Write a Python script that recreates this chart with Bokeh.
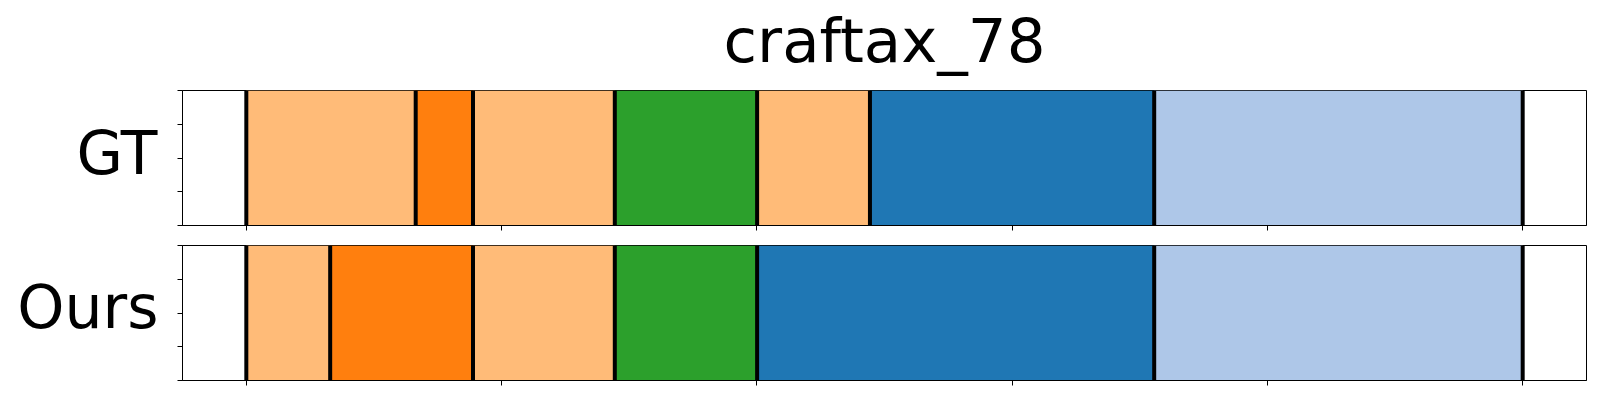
from bokeh.plotting import figure
from bokeh.layouts import column, row
from bokeh.models import Range1d, FixedTicker, CustomLabelingPolicy
from bokeh.core.properties import value
from bokeh.embed import file_html
from bokeh.resources import INLINE

title_text = "craftax_78"
row_labels = ["GT", "Ours"]

# segment boundaries (percent of sequence) and segment colours
gt_bounds = [0, 13.27, 17.76, 28.87, 40.02, 48.86, 71.13, 100]
gt_colors = ["#ffbb78", "#ff7f0e", "#ffbb78", "#2ca02c", "#ffbb78", "#1f77b4", "#aec7e8"]
ours_bounds = [0, 6.57, 17.76, 28.87, 40.02, 71.13, 100]
ours_colors = ["#ffbb78", "#ff7f0e", "#ffbb78", "#2ca02c", "#1f77b4", "#aec7e8"]

x_ticks = [0, 20, 40, 60, 80, 100]
y_ticks = [0, 0.25, 0.5, 0.75, 1.0]

FONT = "DejaVu Sans"

# layout (pixels)
TOTAL_W = 1592
TITLE_H = 89
LAB_W = 172
PANEL_BORDER_L = 10
FRAME_W = 1404
FRAME_H = 135

hide_all = CustomLabelingPolicy(code="""
const n = indices.size;
for (let i = 0; i < n; i++) { indices.unset(i); }
return indices;
""")


def blank_fig(w, h, xr, yr):
    f = figure(width=w, height=h, x_range=xr, y_range=yr, title=None,
               min_border=0, output_backend="svg", toolbar_location=None,
               background_fill_color="white", border_fill_color="white")
    f.axis.visible = False
    f.grid.visible = False
    f.outline_line_color = None
    return f


def make_panel(bounds, colors, top_border, bottom_border):
    p = figure(frame_width=FRAME_W, frame_height=FRAME_H, title=None,
               min_border_left=PANEL_BORDER_L, min_border_right=6,
               min_border_top=top_border, min_border_bottom=bottom_border,
               x_range=Range1d(-5, 105), y_range=Range1d(0, 1),
               output_backend="svg", toolbar_location=None,
               background_fill_color="white", border_fill_color="white")
    p.xgrid.visible = False
    p.ygrid.visible = False
    p.outline_line_color = "black"
    p.outline_line_width = 1
    p.outline_line_alpha = 1

    p.xaxis.ticker = FixedTicker(ticks=x_ticks)
    p.yaxis.ticker = FixedTicker(ticks=y_ticks)
    for ax in (p.xaxis[0], p.yaxis[0]):
        ax.major_label_text_font_size = "1px"
        ax.major_label_standoff = 0
        ax.major_label_policy = hide_all
        ax.minor_tick_line_color = None
        ax.major_tick_in = 0
        ax.major_tick_out = 5
        ax.major_tick_line_color = "black"
        ax.axis_line_color = "black"
        ax.axis_line_width = 1

    p.quad(left=bounds[:-1], right=bounds[1:], bottom=0, top=1,
           fill_color=colors, line_color=None)
    p.segment(x0=bounds, x1=bounds, y0=[0] * len(bounds), y1=[1] * len(bounds),
              line_color="black", line_width=4)
    return p


# title strip
title_fig = blank_fig(TOTAL_W, TITLE_H, Range1d(0, TOTAL_W), Range1d(TITLE_H, 0))
title_fig.text(x=[LAB_W + PANEL_BORDER_L + FRAME_W / 2], y=[39.5], text=[title_text],
               text_font=value(FONT), text_font_size=value("61px"),
               text_color="black", text_align="center", text_baseline="alphabetic")

p1 = make_panel(gt_bounds, gt_colors, 1, 10)
p2 = make_panel(ours_bounds, ours_colors, 10, 12)

panels_h = (1 + FRAME_H + 10) + (10 + FRAME_H + 12)
lab_fig = blank_fig(LAB_W, panels_h, Range1d(0, LAB_W), Range1d(panels_h, 0))
lab_fig.text(x=[157, 158], y=[63, 217.5], text=row_labels,
             text_font=value(FONT), text_font_size=value("60px"),
             text_color="black", text_align="right", text_baseline="alphabetic")

layout = column(title_fig, row(lab_fig, column(p1, p2, spacing=0), spacing=0), spacing=0)
open("out.html", "w").write(file_html(layout, INLINE))
